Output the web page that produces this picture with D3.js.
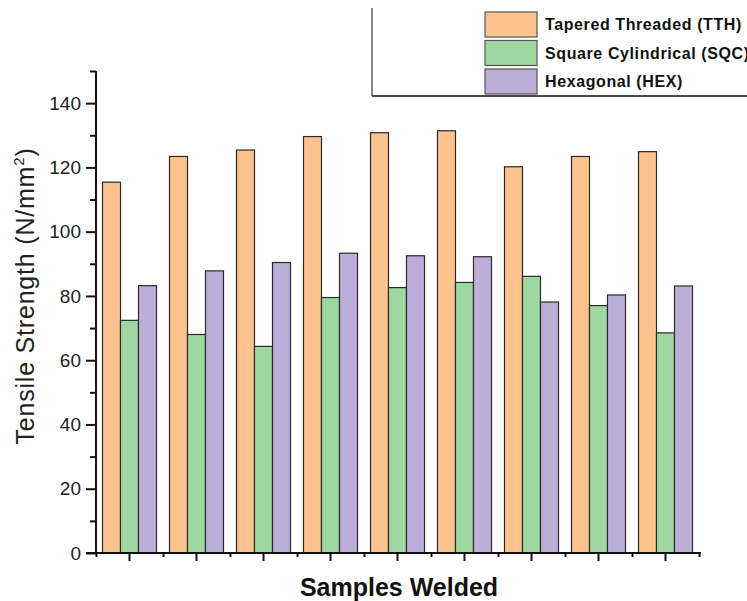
<!DOCTYPE html>
<html>
<head>
<meta charset="utf-8">
<script src="https://cdn.jsdelivr.net/npm/d3@7"></script>
<style>
  body { margin: 0; background: #fff; }
  svg { font-family: "Liberation Sans", Arial, sans-serif; }
</style>
</head>
<body>
<div id="chart"></div>
<script>
// data
const samples = ["S1", "S2", "S3", "S4", "S5", "S6", "S7", "S8", "S9"]
const seriesNames = ["Tapered Threaded (TTH)", "Square Cylindrical (SQC)", "Hexagonal (HEX)"]
const tth = [115.4, 123.4, 125.4, 129.6, 130.8, 131.4, 120.2, 123.4, 124.9]
const sqc = [72.4, 68.0, 64.3, 79.5, 82.6, 84.2, 86.1, 77.0, 68.5]
const hex = [83.2, 87.8, 90.4, 93.3, 92.5, 92.2, 78.1, 80.3, 83.1]
const colors = ["#fcc38f", "#9ed79f", "#bdadd9"]
const yMajor = [0, 20, 40, 60, 80, 100, 120, 140]
const yMinor = [10, 30, 50, 70, 90, 110, 130, 150]

const width = 747
const height = 601
const plotLeft = 96, plotRight = 699, plotTop = 71, plotBottom = 553

const svg = d3.select("#chart")
  .append("svg")
  .attr("width", width)
  .attr("height", height)

const x0 = d3.scaleBand()
  .domain(samples)
  .range([plotLeft, plotRight])
  .paddingInner(0.194)
  .paddingOuter(0.097)

const x1 = d3.scaleBand()
  .domain(seriesNames)
  .range([0, x0.bandwidth()])

const y = d3.scaleLinear()
  .domain([0, 150])
  .range([plotBottom, plotTop])

const rows = samples.map((s, i) => ({
  sample: s,
  values: [tth[i], sqc[i], hex[i]]
}))

// bars
const group = svg.selectAll(".group")
  .data(rows)
  .enter().append("g")
  .attr("class", "group")
  .attr("transform", d => `translate(${x0(d.sample)},0)`)

group.selectAll("rect")
  .data(d => d.values.map((v, k) => ({ name: seriesNames[k], value: v, k })))
  .enter().append("rect")
  .attr("x", d => x1(d.name))
  .attr("y", d => y(d.value))
  .attr("width", x1.bandwidth())
  .attr("height", d => plotBottom - y(d.value))
  .style("fill", d => colors[d.k])
  .style("stroke", "#2a2a2a")
  .style("stroke-width", 1.2)

// y axis
const yAxis = svg.append("g")
  .attr("transform", `translate(${plotLeft},0)`)
  .call(d3.axisLeft(y).tickValues(yMajor).tickSize(10).tickPadding(5))
yAxis.append("g")
  .call(d3.axisLeft(y).tickValues(yMinor).tickSize(6).tickFormat(""))
svg.selectAll("path.domain").remove()

// x axis
const xMinor = d3.scaleLinear().domain([0, samples.length]).range([plotLeft, plotRight])
const xAxis = svg.append("g")
  .attr("transform", `translate(0,${plotBottom})`)
  .call(d3.axisBottom(x0).tickSize(8).tickFormat(""))
xAxis.append("g")
  .call(d3.axisBottom(xMinor).ticks(samples.length).tickSize(4).tickFormat(""))
xAxis.selectAll("path.domain").remove()

svg.selectAll(".tick line")
  .style("stroke", "#111")
  .style("stroke-width", 2)
yAxis.selectAll(".tick text")
  .style("font-size", "19px")
  .style("fill", "#222")

// axis lines
svg.append("line")
  .attr("x1", plotLeft).attr("x2", plotLeft)
  .attr("y1", plotTop).attr("y2", plotBottom + 1)
  .style("stroke", "#111").style("stroke-width", 2)
svg.append("line")
  .attr("x1", plotLeft - 10).attr("x2", plotRight + 2)
  .attr("y1", plotBottom).attr("y2", plotBottom)
  .style("stroke", "#111").style("stroke-width", 2)

// axis titles
svg.append("text")
  .attr("transform", `translate(34,296) rotate(-90)`)
  .attr("text-anchor", "middle")
  .style("font-size", "25px")
  .style("letter-spacing", "0.8px")
  .style("fill", "#222")
  .text("Tensile Strength (N/mm")
  .append("tspan")
  .attr("dy", -10)
  .style("font-size", "15px")
  .text("2")
  .append("tspan")
  .attr("dy", 10)
  .style("font-size", "25px")
  .text(")")

svg.append("text")
  .attr("x", 399)
  .attr("y", 596)
  .attr("text-anchor", "middle")
  .style("font-size", "25px")
  .style("font-weight", "bold")
  .style("fill", "#111")
  .text("Samples Welded")

// legend
svg.append("line")
  .attr("x1", 372).attr("x2", 372)
  .attr("y1", 8).attr("y2", 96)
  .style("stroke", "#888").style("stroke-width", 2)
svg.append("line")
  .attr("x1", 372).attr("x2", width)
  .attr("y1", 96).attr("y2", 96)
  .style("stroke", "#111").style("stroke-width", 1.5)

const legend = svg.selectAll(".legend")
  .data(seriesNames)
  .enter().append("g")
  .attr("class", "legend")
  .attr("transform", (d, i) => `translate(485,${12 + i * 28.5})`)

legend.append("rect")
  .attr("width", 52)
  .attr("height", 25)
  .style("fill", (d, i) => colors[i])
  .style("stroke", "#555")
  .style("stroke-width", 1.2)

legend.append("text")
  .attr("x", 60)
  .attr("y", 18)
  .style("font-size", "16px")
  .style("font-weight", "bold")
  .style("letter-spacing", "0.6px")
  .style("fill", "#111")
  .text(d => d)
</script>
</body>
</html>
